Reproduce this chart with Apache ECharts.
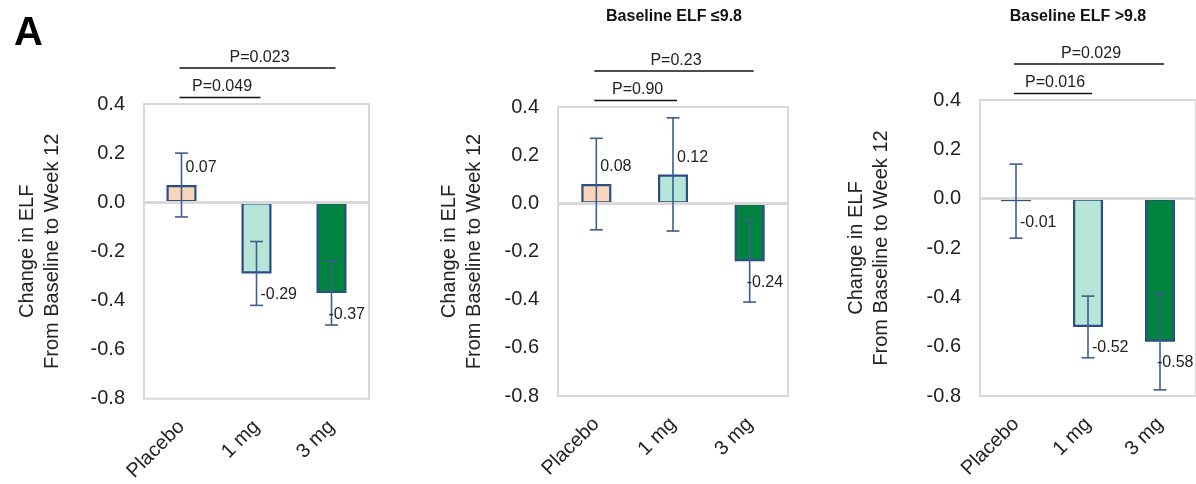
<!DOCTYPE html>
<html><head><meta charset="utf-8">
<script src="https://cdn.jsdelivr.net/npm/echarts@6/dist/echarts.min.js"></script>
<style>html,body{margin:0;padding:0;background:#fff}#c{width:1196px;height:484px}</style>
</head><body><div id="c"></div>
<script>
// ---- data ----
const categories = ['Placebo', '1 mg', '3 mg'];
const barColors = ['#F9D6B9', '#B7E6D8', '#00843F'];
const panelTitles = ['', 'Baseline ELF \u22649.8', 'Baseline ELF >9.8'];
const meansAll = [0.07, -0.29, -0.37];
const errorsAll = [0.13, 0.13, 0.13];
const meansLow = [0.08, 0.12, -0.24];
const errorsLow = [0.19, 0.235, 0.17];
const meansHigh = [-0.01, -0.52, -0.58];
const errorsHigh = [0.15, 0.125, 0.195];
const comparisons = [[0, 1], [0, 2]];
const pValuesAll = ['P=0.049', 'P=0.023'];
const pValuesLow = ['P=0.90', 'P=0.23'];
const pValuesHigh = ['P=0.016', 'P=0.029'];
const yMin = -0.8, yMax = 0.4, yInterval = 0.2;
const yAxisName = 'Change in ELF\nFrom Baseline to Week 12';

const FONT = '"Liberation Sans", Arial, sans-serif';
const TXT = '#222';
const panels = [
  {means: meansAll, errors: errorsAll, p: pValuesAll, grid: {left: 144, top: 104, width: 225, height: 297}, nameGap: 79},
  {means: meansLow, errors: errorsLow, p: pValuesLow, grid: {left: 558, top: 107, width: 230, height: 289}, nameGap: 71},
  {means: meansHigh, errors: errorsHigh, p: pValuesHigh, grid: {left: 980, top: 100, width: 218, height: 296}, nameGap: 86}
];

function errRender(params, api) {
  const i = api.value(0), m = api.value(1), e = api.value(2);
  const c = api.coord([i, m]);
  const hi = api.coord([i, m + e]);
  const lo = api.coord([i, m - e]);
  const x = c[0], cap = 6.5;
  const style = {stroke: '#3D5E8E', lineWidth: 1.6};
  const ly = m >= 0 ? c[1] - 17 : c[1] + 21;
  const lx = i === categories.length - 1 ? x - 3 : x + 4;
  return {type: 'group', children: [
    {type: 'line', shape: {x1: x, y1: hi[1], x2: x, y2: lo[1]}, style},
    {type: 'line', shape: {x1: x - cap, y1: hi[1], x2: x + cap, y2: hi[1]}, style},
    {type: 'line', shape: {x1: x - cap, y1: lo[1], x2: x + cap, y2: lo[1]}, style},
    {type: 'text', x: lx, y: ly, style: {text: m.toFixed(2), fill: TXT, font: '16px ' + FONT, align: 'left', verticalAlign: 'middle'}}
  ]};
}

function pRender(labels) {
  return function (params, api) {
    const a = api.value(0), b = api.value(1);
    const pa = api.coord([a, yMax]);
    const pb = api.coord([b, yMax]);
    const x1 = pa[0] - 2, x2 = pb[0] + 4;
    const y = pa[1] - (params.dataIndex === 0 ? 6.5 : 36);
    return {type: 'group', children: [
      {type: 'line', shape: {x1: x1, y1: y, x2: x2, y2: y}, style: {stroke: '#111', lineWidth: 1.6}},
      {type: 'text', x: (x1 + x2) / 2 + 2, y: y - 10.5, style: {text: labels[params.dataIndex], fill: TXT, font: '16px ' + FONT, align: 'center', verticalAlign: 'middle'}}
    ]};
  };
}

const grids = [], xAxes = [], yAxes = [], series = [];
panels.forEach((p, k) => {
  grids.push(Object.assign({show: true, borderColor: '#D9D9D9', borderWidth: 2, backgroundColor: 'transparent'}, p.grid));
  xAxes.push({
    type: 'category', gridIndex: k, data: categories,
    axisLine: {show: false}, axisTick: {show: false},
    axisLabel: {rotate: 45, fontSize: 20, color: TXT, fontFamily: FONT, margin: 25, interval: 0}
  });
  yAxes.push({
    type: 'value', gridIndex: k, min: yMin, max: yMax, interval: yInterval,
    splitLine: {show: false}, axisLine: {show: false}, axisTick: {show: false},
    axisLabel: {fontSize: 20, color: TXT, fontFamily: FONT, margin: 19, formatter: v => v.toFixed(1)},
    name: yAxisName, nameLocation: 'middle', nameGap: p.nameGap,
    nameTextStyle: {fontSize: 20, color: TXT, fontFamily: FONT, lineHeight: 25}
  });
  series.push({
    type: 'bar', xAxisIndex: k, yAxisIndex: k, barWidth: 30, z: 2,
    data: p.means.map((v, i) => ({value: v, itemStyle: {color: barColors[i]}})),
    itemStyle: {borderColor: '#2A4F85', borderWidth: 2.2},
    markLine: {silent: true, symbol: 'none', label: {show: false},
      lineStyle: {color: '#D9D9D9', width: 3, type: 'solid'}, data: [{yAxis: 0}]}
  });
  series.push({
    type: 'custom', xAxisIndex: k, yAxisIndex: k, z: 5,
    data: p.means.map((v, i) => [i, v, p.errors[i]]),
    renderItem: errRender
  });
  series.push({
    type: 'custom', xAxisIndex: k, yAxisIndex: k, z: 5, clip: false,
    encode: {x: 0, y: 1},
    data: comparisons.map(c => [c[0], c[1]]),
    renderItem: pRender(p.p)
  });
});

const chart = echarts.init(document.getElementById('c'), null, {renderer: 'canvas'});
chart.setOption({
  animation: false,
  backgroundColor: '#fff',
  title: [
    {text: 'A', left: 9, top: 9, textStyle: {fontSize: 40, fontWeight: 'bold', color: '#000', fontFamily: FONT}},
    {text: panelTitles[1], left: 669, top: 4, textAlign: 'center', textStyle: {fontSize: 16, fontWeight: 'bold', color: '#111', fontFamily: FONT}},
    {text: panelTitles[2], left: 1073, top: 4, textAlign: 'center', textStyle: {fontSize: 16, fontWeight: 'bold', color: '#111', fontFamily: FONT}}
  ],
  grid: grids, xAxis: xAxes, yAxis: yAxes, series: series
});
</script></body></html>
